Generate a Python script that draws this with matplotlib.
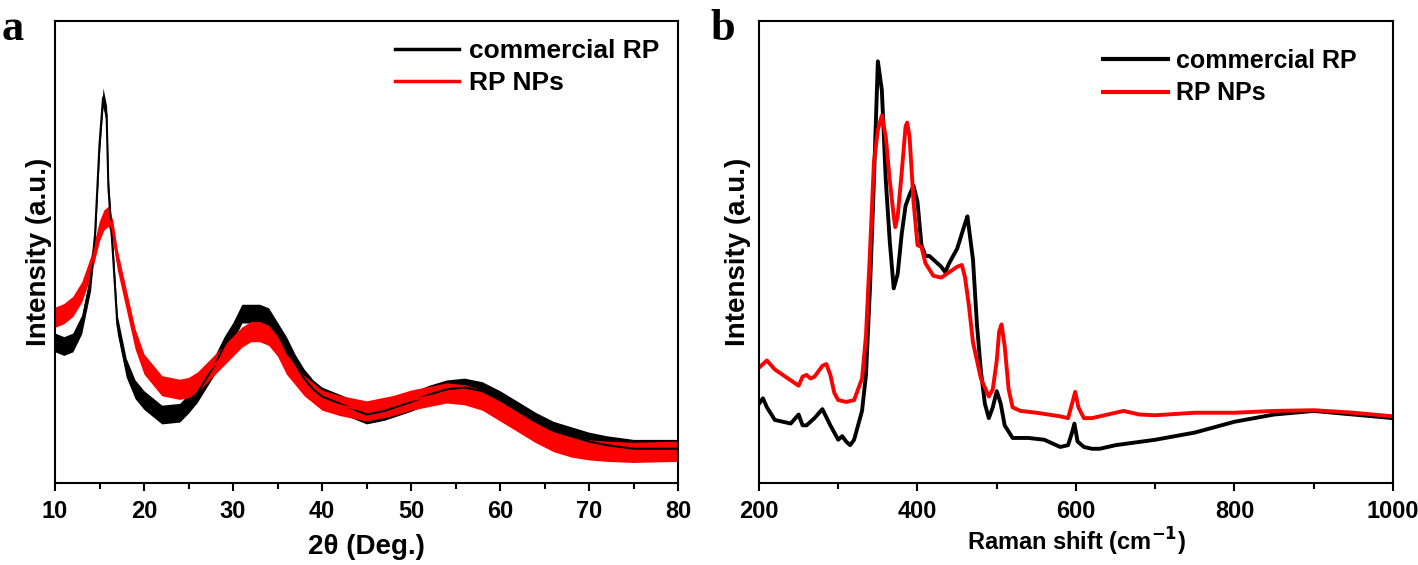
import matplotlib
matplotlib.use('Agg')
import matplotlib.pyplot as plt
import numpy as np

# ---- panel a: XRD (intensity in arbitrary units)
xrd_theta_black = [10, 11, 12, 13, 14, 14.5, 15, 15.4, 15.8, 16, 16.5, 17, 18, 19, 20, 21, 22, 24, 25, 26,
                   27, 28, 29, 30, 31, 32, 33, 34, 35, 36, 37, 38, 39, 40, 42, 44, 45, 47, 50, 52,
                   54, 56, 58, 60, 62, 64, 66, 68, 70, 72, 75, 78, 80]
xrd_commercial = [390, 380, 390, 440, 560, 690, 940, 1070, 1020, 820, 640, 440, 320, 260, 230, 210, 190, 195, 220, 250,
                  290, 330, 380, 420, 470, 470, 470, 460, 420, 380, 330, 290, 260, 240, 220, 200, 190, 200, 225, 245,
                  260, 265, 255, 230, 200, 170, 145, 130, 115, 105, 95, 95, 95]
xrd_theta_red = [10, 11, 12, 13, 14, 15, 15.5, 16, 16.5, 17, 18, 19, 20, 21, 22, 24, 25, 26, 28, 30,
                 31, 32, 33, 34, 35, 36, 37, 38, 40, 42, 45, 48, 50, 52, 54, 56, 58, 60, 62, 64,
                 66, 68, 70, 72, 75, 80]
xrd_nps = [460, 470, 490, 530, 600, 700, 730, 740, 700, 620, 510, 400, 330, 300, 270, 260, 265, 280, 330, 380,
           405, 420, 420, 410, 380, 330, 300, 270, 230, 215, 200, 215, 230, 240, 250, 245, 230, 200, 170, 140,
           115, 100, 92, 88, 85, 88]
noise_commercial = 26   # half height of the noisy band
noise_nps = 28

# ---- panel b: Raman
raman_shift_black = [200, 205, 210, 220, 230, 240, 250, 255, 260, 270, 280, 290, 300, 305, 310, 315, 320, 330, 335, 340,
                     345, 350, 355, 360, 365, 370, 375, 380, 385, 390, 395, 400, 405, 410, 415, 420, 430, 435, 440, 450,
                     460, 463, 470, 475, 480, 485, 490, 495, 500, 505, 510, 520, 540, 560, 580, 590, 595, 598, 602, 610,
                     620, 630, 650, 700, 750, 800, 850, 900, 950, 1000]
raman_commercial = [220, 235, 210, 175, 170, 165, 190, 160, 160, 180, 205, 160, 120, 130, 115, 105, 120, 200, 300, 540,
                    840, 1170, 1090, 840, 670, 540, 580, 690, 770, 800, 825, 780, 660, 630, 630, 620, 600, 585, 610, 650,
                    720, 740, 620, 440, 310, 220, 180, 210, 255, 220, 160, 125, 125, 120, 100, 105, 140, 165, 115, 100,
                    95, 95, 105, 120, 140, 170, 190, 200, 190, 180]
raman_shift_red = [200, 210, 220, 230, 240, 250, 255, 260, 265, 270, 280, 285, 290, 295, 300, 310, 320, 330, 335, 340,
                   345, 350, 355, 360, 365, 370, 372, 375, 380, 385, 387, 390, 395, 400, 405, 410, 420, 430, 440, 450,
                   456, 460, 465, 470, 480, 490, 495, 500, 503, 506, 510, 515, 520, 530, 550, 580, 590, 595, 599, 603,
                   610, 620, 640, 660, 680, 700, 750, 800, 850, 900, 950, 1000]
raman_nps = [320, 340, 315, 300, 285, 270, 295, 300, 290, 295, 325, 330, 300, 250, 230, 225, 230, 290, 410, 640,
             890, 980, 1020, 960, 840, 740, 710, 740, 860, 990, 1000, 960, 780, 660, 655, 610, 575, 570, 585, 600,
             605, 570, 490, 390, 290, 240, 260, 340, 420, 440, 380, 260, 210, 200, 195, 185, 180, 220, 253, 210,
             180, 180, 190, 200, 190, 188, 195, 195, 200, 202, 195, 185]

FONT = 'Liberation Sans'
tick_font = {'family': FONT, 'weight': 'bold', 'size': 17}

fig = plt.figure(figsize=(14.18, 5.65), dpi=100)
ax1 = fig.add_axes([55 / 1418, 1 - 483 / 565, 623 / 1418, 462 / 565])
ax2 = fig.add_axes([759 / 1418, 1 - 483 / 565, 634 / 1418, 462 / 565])


def style_axis(ax):
    for sp in ax.spines.values():
        sp.set_linewidth(1.5)
    ax.set_yticks([])
    ax.tick_params(axis='x', which='major', direction='out', length=6, width=1.5, pad=6)
    ax.tick_params(axis='x', which='minor', direction='out', length=4, width=1.5)
    for lab in ax.get_xticklabels():
        lab.set_fontproperties(matplotlib.font_manager.FontProperties(**tick_font))


# panel a
tb = np.array(xrd_theta_black)
yb = np.array(xrd_commercial)
tr = np.array(xrd_theta_red)
yr = np.array(xrd_nps)
ax1.fill_between(tb, yb - noise_commercial, yb + noise_commercial, color='black', lw=0)
ax1.plot(tb, yb, color='black', lw=1.5, label='commercial RP')
ax1.fill_between(tr, yr - noise_nps, yr + noise_nps, color='#ff0000', lw=0)
ax1.plot(tr, yr, color='#ff0000', lw=1.5, label='RP NPs')
ax1.set_xlim(10, 80)
ax1.set_ylim(0, 1282)
ax1.set_xticks(np.arange(10, 81, 10))
ax1.set_xticks(np.arange(15, 80, 10), minor=True)
style_axis(ax1)
ax1.set_xlabel('2θ (Deg.)', fontfamily=FONT, fontweight='bold', fontsize=20, labelpad=8)
ax1.set_ylabel('Intensity (a.u.)', fontfamily=FONT, fontweight='bold', fontsize=20, labelpad=2)
leg1 = ax1.legend(loc='upper right', frameon=False, handlelength=2.4, handletextpad=0.4,
                  borderaxespad=0.3, prop={'family': FONT, 'weight': 'bold', 'size': 19},
                  labelspacing=0.3)
for h in leg1.legend_handles:
    h.set_linewidth(2.5)

# panel b
ax2.plot(raman_shift_black, raman_commercial, color='black', lw=2.8, label='commercial RP')
ax2.plot(raman_shift_red, raman_nps, color='#ff0000', lw=2.8, label='RP NPs')
ax2.set_xlim(200, 1000)
ax2.set_ylim(0, 1282)
ax2.set_xticks(np.arange(200, 1001, 200))
ax2.set_xticks(np.arange(300, 1000, 200), minor=True)
style_axis(ax2)
ax2.set_xlabel('Raman shift (cm$^{\\mathbf{-1}}$)', fontfamily=FONT, fontweight='bold',
               fontsize=17, labelpad=2)
ax2.set_ylabel('Intensity (a.u.)', fontfamily=FONT, fontweight='bold', fontsize=20, labelpad=6)
leg2 = ax2.legend(loc='upper right', frameon=False, handlelength=2.6, handletextpad=0.3,
                  borderaxespad=0, prop={'family': FONT, 'weight': 'bold', 'size': 18},
                  labelspacing=0.35, bbox_to_anchor=(0.958, 0.962))
for h in leg2.legend_handles:
    h.set_linewidth(3)

# panel letters
fig.text(2 / 1418, 1 - 40 / 565, 'a', fontfamily='Liberation Serif', fontweight='bold', fontsize=32)
fig.text(710 / 1418, 1 - 40 / 565, 'b', fontfamily='Liberation Serif', fontweight='bold', fontsize=32)

fig.savefig('out.png', dpi=100)
